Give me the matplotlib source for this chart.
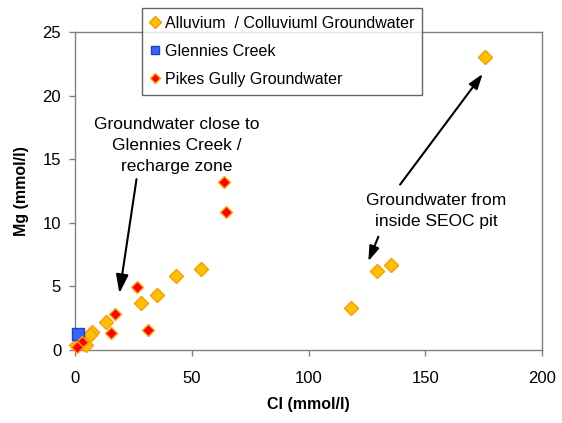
import matplotlib
matplotlib.use('Agg')
import matplotlib.pyplot as plt

plt.rcParams['font.family'] = ['Liberation Sans', 'DejaVu Sans']

# Alluvium / Colluvium groundwater
alluv_cl = [175.5, 135.2, 129.3, 118.0, 53.8, 43.3, 35.1, 28.4, 13.2, 7.4, 6.2, 4.7, 0.5]
alluv_mg = [23.0, 6.66, 6.2, 3.28, 6.4, 5.8, 4.3, 3.67, 2.2, 1.42, 1.18, 0.37, 0.36]

# Glennies Creek
creek_cl = [1.3]
creek_mg = [1.25]

# Pikes Gully groundwater
pikes_cl = [63.9, 64.5, 26.4, 17.1, 15.5, 31.4, 2.8, 0.7]
pikes_mg = [13.2, 10.85, 4.93, 2.86, 1.3, 1.57, 0.62, 0.25]

fig = plt.figure(figsize=(5.62, 4.23), dpi=100)
ax = fig.add_axes([0.1335, 0.1726, 0.831, 0.752])

ax.plot(alluv_cl, alluv_mg, linestyle='none', marker='D', markersize=7.5,
        markerfacecolor='#FFC000', markeredgecolor='#FF9900', markeredgewidth=1,
        label='Alluvium  / Colluviuml Groundwater', zorder=3, clip_on=False)
ax.plot(creek_cl, creek_mg, linestyle='none', marker='s', markersize=8,
        markerfacecolor='#3366FF', markeredgecolor='#1F3FCC', markeredgewidth=1,
        label='Glennies Creek', zorder=3, clip_on=False)
ax.plot(pikes_cl, pikes_mg, linestyle='none', marker='D', markersize=6.5,
        markerfacecolor='#FF0000', markeredgecolor='#FFA500', markeredgewidth=1,
        label='Pikes Gully Groundwater', zorder=4, clip_on=False)

ax.set_xlim(0, 200)
ax.set_ylim(0, 25)
ax.set_xticks([0, 50, 100, 150, 200])
ax.set_yticks([0, 5, 10, 15, 20, 25])
ax.tick_params(direction='out', length=4, width=1, color='#808080', labelsize=12)
ax.tick_params(axis='x', pad=11)
ax.tick_params(axis='y', pad=6)
for s in ax.spines.values():
    s.set_color('#808080')
    s.set_linewidth(1)

ax.set_xlabel('Cl (mmol/l)', fontsize=11.5, fontweight='bold', labelpad=8)
ax.set_ylabel('Mg (mmol/l)', fontsize=11.5, fontweight='bold', labelpad=10)

arrow = dict(arrowstyle='-|>,head_length=0.9,head_width=0.3', color='black', lw=1.5)
ax.annotate('Groundwater close to\nGlennies Creek /\nrecharge zone',
            xy=(19.0, 4.46), xytext=(43.7, 16.1), textcoords='data',
            ha='center', va='center', fontsize=12.5, linespacing=1.5,
            arrowprops=dict(arrow, shrinkA=2, shrinkB=0, relpos=(0.26, 0.0)))
ax.annotate('', xy=(174.6, 21.7), xytext=(139.2, 13.0),
            arrowprops=dict(arrow, shrinkA=0, shrinkB=0))
ax.annotate('', xy=(125.6, 6.97), xytext=(129.9, 8.9),
            arrowprops=dict(arrow, shrinkA=0, shrinkB=0))
ax.text(154.6, 10.9, 'Groundwater from\ninside SEOC pit', ha='center', va='center',
        fontsize=12.5, linespacing=1.5)

leg = fig.legend(loc='upper left', bbox_to_anchor=(0.253, 0.981), fontsize=11.5,
                 frameon=True, fancybox=False, markerscale=0.75, handlelength=0.6,
                 handletextpad=0.3, borderpad=0.5, labelspacing=0.8, borderaxespad=0)
leg.get_frame().set_edgecolor('#404040')
leg.get_frame().set_linewidth(1)

fig.savefig('out.png', dpi=100)
